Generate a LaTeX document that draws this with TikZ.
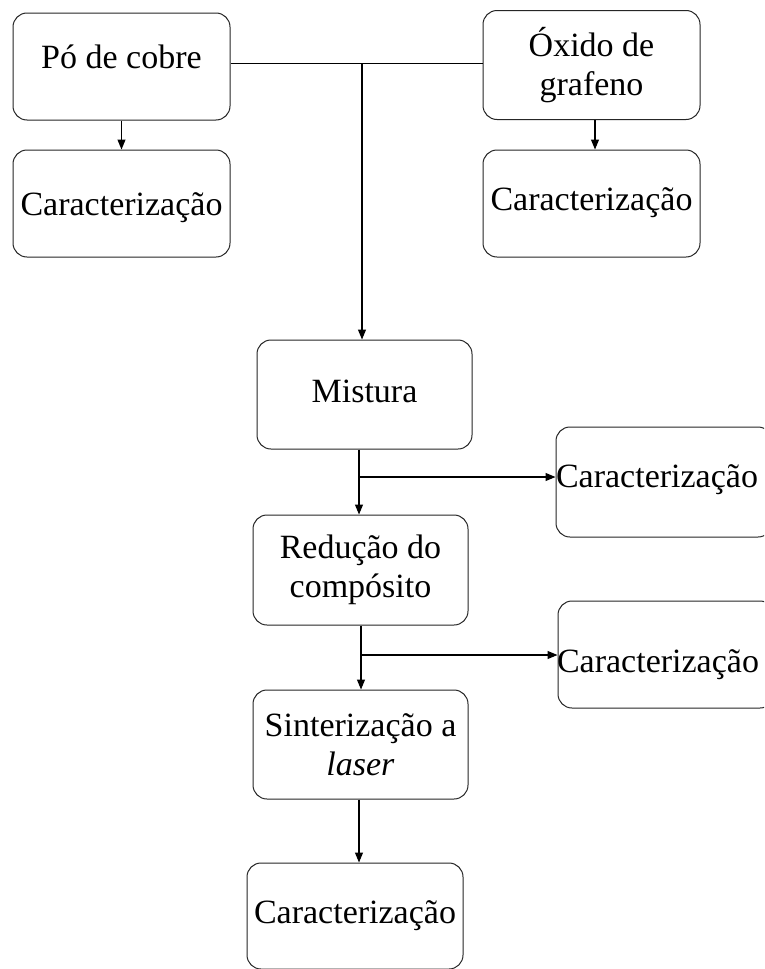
\documentclass[tikz,border=0pt]{standalone}
\usepackage{fontspec}
\setmainfont{Liberation Serif}
\usetikzlibrary{arrows.meta}
\begin{document}
\begin{tikzpicture}[x=1pt,y=-1pt,
  box/.style={draw=black!85, line width=1pt, rounded corners=14pt, inner sep=0pt,
    align=center, font=\fontsize{34}{38.5}\selectfont},
  conn/.style={line width=1.1pt, draw=black},
  arr/.style={conn, -{Triangle[length=10pt,width=8pt]}}]
\clip (0,0) rectangle (764,969);
\fill[white] (0,0) rectangle (764,969);
% boxes
\node[box, minimum width=217pt, minimum height=107pt, text height=20pt, text depth=17pt] (po) at (121.5,66.5) {Pó de cobre};
\node[box, minimum width=217pt, minimum height=109pt] (ox) at (591.5,65) {Óxido de\\grafeno};
\node[box, minimum width=217pt, minimum height=107pt, text height=26pt, text depth=3pt] (c1) at (121.5,203.5) {Caracterização};
\node[box, minimum width=217pt, minimum height=107pt, text height=22pt, text depth=9pt] (c2) at (591.5,203.5) {Caracterização};
\node[box, minimum width=215pt, minimum height=109pt, text height=24pt, text depth=9pt] (mi) at (364.5,394.5) {Mistura};
\node[box, minimum width=216pt, minimum height=110pt, text height=22pt, text depth=12pt] (c3) at (664,482) {\kern-14pt Caracterização};
\node[box, minimum width=215pt, minimum height=110pt] (re) at (360.5,570) {Redução do\\compósito};
\node[box, minimum width=216pt, minimum height=107pt, text height=36pt, text depth=1pt] (c4) at (666,654.5) {\kern-16pt Caracterização};
\node[box, minimum width=215pt, minimum height=109pt] (si) at (360.5,744.5) {Sinterização a\\\textit{laser}};
\node[box, minimum width=216pt, minimum height=106pt, text height=24pt, text depth=10pt] (c5) at (355,916) {Caracterização};
% junctions
\coordinate (j1) at (362,63.5);
\coordinate (j2) at (359,477);
\coordinate (j3) at (361,655);
% connectors
\draw[conn] (po.east |- j1) -- (ox.west |- j1);
\draw[arr] (j1) -- (mi.north -| j1);
\draw[arr] (po.south) -- (c1.north);
\draw[arr] ([xshift=3.5pt]ox.south) -- ([xshift=3.5pt]c2.north);
\draw[arr] (mi.south -| j2) -- (re.north -| j2);
\draw[arr] (j2) -- (c3.west |- j2);
\draw[arr] (re.south -| j3) -- (si.north -| j3);
\draw[arr] (j3) -- (c4.west |- j3);
\draw[arr] ([xshift=-1.5pt]si.south) -- ([xshift=-1.5pt]si.south |- c5.north);
\end{tikzpicture}
\end{document}
